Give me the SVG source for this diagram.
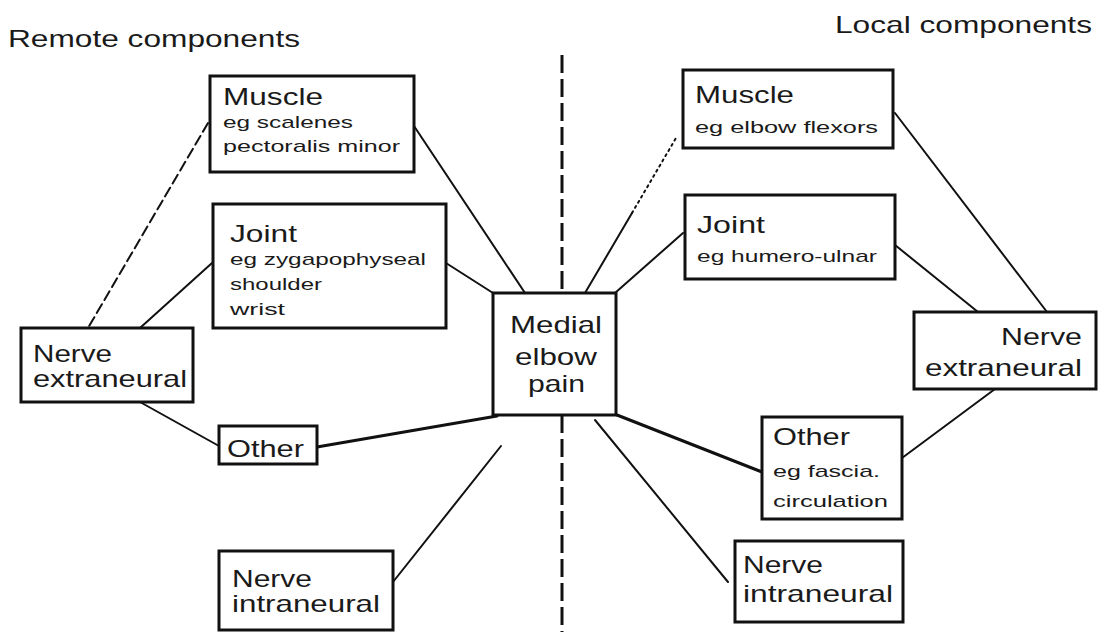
<svg xmlns="http://www.w3.org/2000/svg" width="1098" height="632" viewBox="0 0 1098 632">
<style>
.box{fill:#fff;stroke:#111;stroke-width:3}
.t{font-family:"Liberation Sans","DejaVu Sans",Arial,sans-serif;fill:#1a1a1a}
.big{font-size:24px}
.sm{font-size:17px}
.ttl{font-size:24px}
.c{stroke:#111;stroke-width:2;fill:none;stroke-linecap:round}
.thick{stroke-width:3}
.dash{stroke-dasharray:10 5}
.dot{stroke-dasharray:2 4}
.div{stroke:#111;stroke-width:3;stroke-dasharray:18 6;fill:none}
</style>
<rect x="0" y="0" width="1098" height="632" fill="#fff"/>

<g id="divider">
<line class="div" x1="562" y1="55" x2="562" y2="293"/>
<line class="div" x1="562" y1="415" x2="562" y2="632"/>
</g>

<g id="titles">
<text class="t ttl" x="8" y="47" textLength="292" lengthAdjust="spacingAndGlyphs">Remote components</text>
<text class="t ttl" x="835" y="33" textLength="257" lengthAdjust="spacingAndGlyphs">Local components</text>
</g>

<g id="connectors">
<line class="c dash" x1="208" y1="123" x2="88" y2="328"/>
<line class="c" x1="414" y1="126" x2="525" y2="293"/>
<line class="c" x1="446" y1="263" x2="493" y2="293"/>
<line class="c" x1="212" y1="263" x2="140" y2="328"/>
<line class="c" x1="140" y1="402" x2="219" y2="446"/>
<line class="c thick" x1="317" y1="447" x2="497" y2="416"/>
<line class="c" x1="393" y1="582" x2="501" y2="446"/>
<line class="c" x1="585" y1="293" x2="632" y2="213"/>
<line class="c dot" x1="632" y1="213" x2="676" y2="138"/>
<line class="c" x1="615" y1="293" x2="683" y2="233"/>
<line class="c" x1="895" y1="113" x2="1047" y2="312"/>
<line class="c" x1="895" y1="245" x2="978" y2="312"/>
<line class="c" x1="995" y1="389" x2="902" y2="458"/>
<line class="c thick" x1="617" y1="415" x2="762" y2="472"/>
<line class="c" x1="595" y1="420" x2="728" y2="582"/>
</g>

<g id="remote-muscle">
<rect class="box" x="210" y="76" width="204" height="96"/>
<text class="t big" x="223" y="105" textLength="100" lengthAdjust="spacingAndGlyphs">Muscle</text>
<text class="t sm" x="223" y="128" textLength="130" lengthAdjust="spacingAndGlyphs">eg scalenes</text>
<text class="t sm" x="223" y="152" textLength="177" lengthAdjust="spacingAndGlyphs">pectoralis minor</text>
</g>

<g id="remote-joint">
<rect class="box" x="213" y="204" width="233" height="124"/>
<text class="t big" x="230" y="242" textLength="67" lengthAdjust="spacingAndGlyphs">Joint</text>
<text class="t sm" x="230" y="265" textLength="196" lengthAdjust="spacingAndGlyphs">eg zygapophyseal</text>
<text class="t sm" x="230" y="290" textLength="92" lengthAdjust="spacingAndGlyphs">shoulder</text>
<text class="t sm" x="230" y="315" textLength="55" lengthAdjust="spacingAndGlyphs">wrist</text>
</g>

<g id="remote-nerve-extraneural">
<rect class="box" x="21" y="328" width="172" height="74"/>
<text class="t big" x="33" y="362" textLength="79" lengthAdjust="spacingAndGlyphs">Nerve</text>
<text class="t big" x="33" y="387" textLength="154" lengthAdjust="spacingAndGlyphs">extraneural</text>
</g>

<g id="remote-other">
<rect class="box" x="219" y="426" width="98" height="38"/>
<text class="t big" x="227" y="457" textLength="77" lengthAdjust="spacingAndGlyphs">Other</text>
</g>

<g id="remote-nerve-intraneural">
<rect class="box" x="219" y="551" width="174" height="79"/>
<text class="t big" x="232" y="587" textLength="80" lengthAdjust="spacingAndGlyphs">Nerve</text>
<text class="t big" x="232" y="612" textLength="148" lengthAdjust="spacingAndGlyphs">intraneural</text>
</g>

<g id="medial-elbow-pain">
<rect class="box" x="493" y="293" width="123" height="122"/>
<text class="t big" x="510" y="333" textLength="92" lengthAdjust="spacingAndGlyphs">Medial</text>
<text class="t big" x="515" y="365" textLength="82" lengthAdjust="spacingAndGlyphs">elbow</text>
<text class="t big" x="528" y="392" textLength="57" lengthAdjust="spacingAndGlyphs">pain</text>
</g>

<g id="local-muscle">
<rect class="box" x="683" y="70" width="210" height="78"/>
<text class="t big" x="695" y="103" textLength="99" lengthAdjust="spacingAndGlyphs">Muscle</text>
<text class="t sm" x="695" y="133" textLength="183" lengthAdjust="spacingAndGlyphs">eg elbow flexors</text>
</g>

<g id="local-joint">
<rect class="box" x="685" y="195" width="210" height="84"/>
<text class="t big" x="697" y="233" textLength="68" lengthAdjust="spacingAndGlyphs">Joint</text>
<text class="t sm" x="697" y="262" textLength="180" lengthAdjust="spacingAndGlyphs">eg humero-ulnar</text>
</g>

<g id="local-nerve-extraneural">
<rect class="box" x="914" y="312" width="182" height="77"/>
<text class="t big" x="1001" y="345" textLength="81" lengthAdjust="spacingAndGlyphs">Nerve</text>
<text class="t big" x="925" y="376" textLength="157" lengthAdjust="spacingAndGlyphs">extraneural</text>
</g>

<g id="local-other">
<rect class="box" x="762" y="417" width="140" height="102"/>
<text class="t big" x="773" y="445" textLength="77" lengthAdjust="spacingAndGlyphs">Other</text>
<text class="t sm" x="773" y="477" textLength="107" lengthAdjust="spacingAndGlyphs">eg fascia.</text>
<text class="t sm" x="773" y="507" textLength="115" lengthAdjust="spacingAndGlyphs">circulation</text>
</g>

<g id="local-nerve-intraneural">
<rect class="box" x="735" y="541" width="168" height="81"/>
<text class="t big" x="743" y="573" textLength="80" lengthAdjust="spacingAndGlyphs">Nerve</text>
<text class="t big" x="743" y="602" textLength="150" lengthAdjust="spacingAndGlyphs">intraneural</text>
</g>
</svg>
